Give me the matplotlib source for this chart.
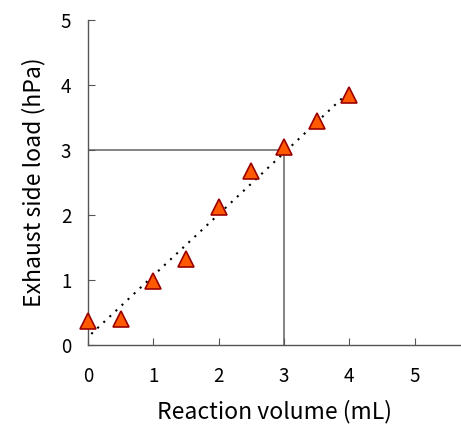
import matplotlib
matplotlib.use("Agg")
import matplotlib.pyplot as plt
import numpy as np

plt.rcParams['font.family'] = ['Noto Sans CJK JP', 'DejaVu Sans']

volume = [0, 0.5, 1, 1.5, 2, 2.5, 3, 3.5, 4]
load = [0.37, 0.40, 0.98, 1.33, 2.12, 2.68, 3.05, 3.44, 3.84]
trend_x = [0.05, 4.0]
trend_y = [0.17, 3.90]
ref_x = 3
ref_y = 3
xticks = [0, 1, 2, 3, 4, 5]
yticks = [0, 1, 2, 3, 4, 5]

fig = plt.figure(figsize=(4.61, 4.25), dpi=100)
ax = fig.add_axes([88/461, 80/425, 1 - 88/461, 325/425])
ax.set_xlim(0, 5.71)
ax.set_ylim(0, 5)

ax.plot([0, ref_x], [ref_y, ref_y], color='#707070', lw=1.2, zorder=1)
ax.plot([ref_x, ref_x], [0, ref_y], color='#707070', lw=1.2, zorder=1)
ax.plot(trend_x, trend_y, color='black', lw=1.5, ls=(0, (1, 3)), zorder=2)
ax.plot(volume, load, ls='none', marker='^', markersize=11, markerfacecolor='#FF5a00',
        markeredgecolor='#9b0000', markeredgewidth=1.2, zorder=3, clip_on=False)

for s in ['top', 'right']:
    ax.spines[s].set_visible(False)
for s in ['left', 'bottom']:
    ax.spines[s].set_color('#555555')
    ax.spines[s].set_linewidth(1.0)

ax.set_xticks(xticks)
ax.set_yticks(yticks)
ax.tick_params(axis='x', direction='in', length=5, color='#555555', pad=15, labelsize=13.5)
ax.tick_params(axis='y', direction='in', length=5, color='#555555', pad=12, labelsize=13.5)

ax.set_xlabel('Reaction volume (mL)', fontsize=16.5, labelpad=9)
ax.set_ylabel('Exhaust side load (hPa)', fontsize=16.5, labelpad=11)

fig.savefig('out.png', dpi=100)
